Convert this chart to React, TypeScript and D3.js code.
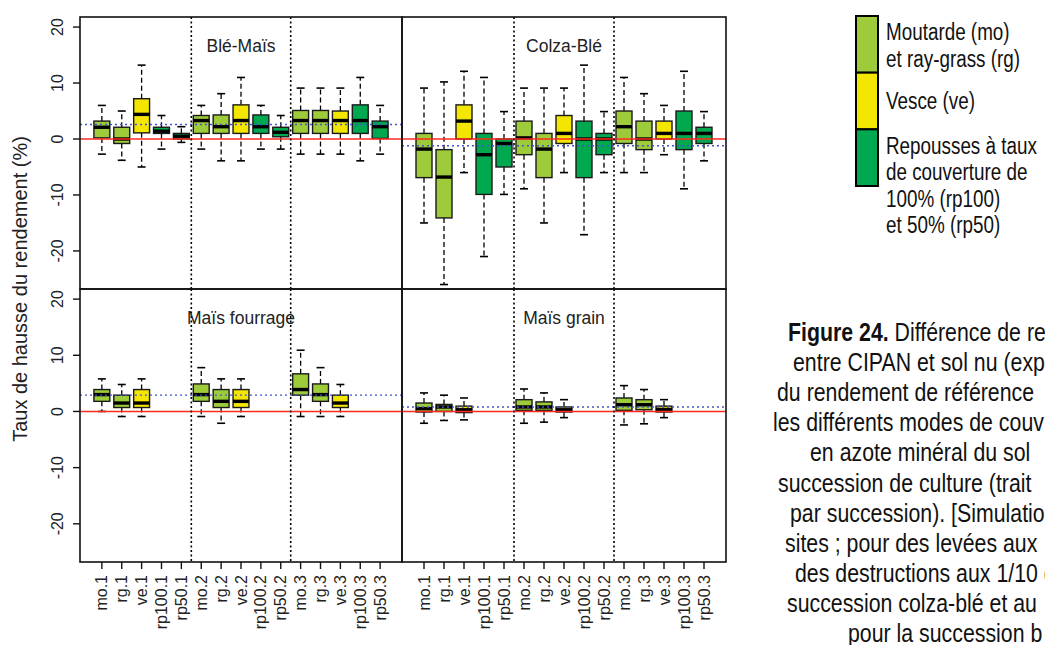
import React from "react";
import * as d3 from "d3";

// ---------- data ----------
const categories = [
  "mo.1", "rg.1", "ve.1", "rp100.1", "rp50.1",
  "mo.2", "rg.2", "ve.2", "rp100.2", "rp50.2",
  "mo.3", "rg.3", "ve.3", "rp100.3", "rp50.3",
];

const panelTitles = ["Blé-Maïs", "Colza-Blé", "Maïs fourrage", "Maïs grain"];

// each entry: [lower whisker, Q1, median, Q3, upper whisker] ; null = no box
type Stat = [number, number, number, number, number] | null;

const bleMais: Stat[] = [
  [-2.7, 0.2, 2.1, 3.2, 6.0],
  [-3.8, -0.8, 0.0, 2.1, 5.0],
  [-5.0, 1.1, 4.4, 7.2, 13.2],
  [-1.8, 1.0, 1.4, 2.1, 4.2],
  [-0.6, 0.0, 0.5, 1.0, 2.2],
  [-1.8, 1.0, 3.3, 4.2, 6.0],
  [-3.9, 1.0, 2.2, 4.3, 8.1],
  [-3.9, 1.0, 3.3, 6.1, 11.0],
  [-1.8, 1.0, 2.2, 4.3, 6.0],
  [-1.8, 0.4, 1.2, 2.1, 4.2],
  [-2.7, 1.0, 3.3, 5.1, 9.1],
  [-2.7, 1.0, 3.3, 5.1, 9.1],
  [-2.7, 1.0, 3.3, 5.0, 9.1],
  [-3.9, 1.0, 3.3, 6.1, 11.0],
  [-2.7, 0.1, 2.2, 3.2, 6.0],
];

const colzaBle: Stat[] = [
  [-15.0, -6.9, -1.8, 1.0, 9.1],
  [-26.0, -14.1, -6.8, -1.9, 10.2],
  [-6.0, 0.0, 3.2, 6.1, 12.1],
  [-21.0, -9.9, -2.8, 1.0, 11.0],
  [-9.9, -5.0, -0.8, 0.0, 4.9],
  [-8.9, -2.8, 0.2, 3.2, 9.1],
  [-15.0, -6.9, -1.8, 1.0, 9.1],
  [-6.0, -0.8, 1.0, 4.2, 9.1],
  [-17.1, -6.9, 0.0, 3.2, 13.2],
  [-6.0, -2.8, 0.0, 1.0, 4.9],
  [-6.0, -0.8, 2.2, 5.0, 11.0],
  [-6.0, -1.9, 0.0, 3.2, 8.1],
  [-2.8, 0.0, 1.0, 3.2, 6.0],
  [-8.9, -1.9, 1.0, 5.0, 12.1],
  [-3.9, -0.8, 1.0, 2.1, 4.9],
];

const maisFourrage: Stat[] = [
  [0.0, 1.8, 3.0, 3.9, 5.8],
  [-0.9, 0.7, 1.5, 2.9, 4.8],
  [-0.9, 0.7, 1.5, 3.9, 5.8],
  null,
  null,
  [-0.9, 1.8, 3.0, 4.9, 7.8],
  [-2.1, 0.7, 1.8, 3.9, 5.8],
  [-0.9, 0.7, 1.8, 3.9, 5.8],
  null,
  null,
  [-0.9, 2.9, 3.9, 6.7, 10.9],
  [-0.9, 1.8, 3.0, 4.9, 7.8],
  [-0.9, 0.7, 1.5, 2.9, 4.8],
  null,
  null,
];

const maisGrain: Stat[] = [
  [-2.1, -0.1, 0.5, 1.5, 3.3],
  [-1.6, 0.0, 0.8, 1.25, 2.9],
  [-1.5, -0.2, 0.3, 0.95, 2.4],
  null,
  null,
  [-2.1, 0.2, 0.8, 2.1, 4.0],
  [-1.9, 0.2, 0.8, 1.7, 3.3],
  [-1.1, -0.1, 0.3, 0.8, 2.1],
  null,
  null,
  [-2.4, 0.2, 1.2, 2.4, 4.6],
  [-2.2, 0.3, 1.2, 2.1, 3.9],
  [-1.1, -0.1, 0.35, 0.95, 2.1],
  null,
  null,
];

const panelMeans = [2.6, -1.2, 2.9, 0.8];
const yTicks = [-20, -10, 0, 10, 20];
const groupBreaks = [5.5, 10.5];

const legendColors = ["#9dcb3a", "#f3e600", "#00a94f"];
const legendLines = [
  "Moutarde (mo)",
  "et ray-grass (rg)",
  "Vesce (ve)",
  "Repousses à taux",
  "de couverture de",
  "100% (rp100)",
  "et 50% (rp50)",
];

const captionBold = "Figure 24.";
const captionLines = [
  " Différence de re",
  "entre CIPAN et sol nu (expr",
  "du rendement de référence",
  "les différents modes de couv",
  "en azote minéral du sol",
  "succession de culture (trait",
  "par succession). [Simulatio",
  "sites ; pour des levées aux",
  "des destructions aux 1/10 e",
  "succession colza-blé et au",
  "pour la succession b",
];

// ---------- layout ----------
const W = 1045;
const H = 645;
const colX = [80, 402, 726];
const rowY = [17, 289, 562];
const captionX = [788, 793, 777, 773, 810, 778, 790, 785, 795, 787, 848];
const legendLineY = [32, 59, 101, 146, 172, 199, 225];

const plotFont = "'Liberation Sans', Arial, Helvetica, sans-serif";
const narrowScale = 0.82;

function fillFor(cat: string) {
  if (cat.startsWith("ve")) return legendColors[1];
  if (cat.startsWith("rp")) return legendColors[2];
  return legendColors[0];
}

const panelsData = [bleMais, colzaBle, maisFourrage, maisGrain];

function Panel({ idx }: { idx: number }) {
  const col = idx % 2;
  const row = Math.floor(idx / 2);
  const x0 = colX[col], x1 = colX[col + 1];
  const y0 = rowY[row], y1 = rowY[row + 1];
  const x = d3.scaleLinear().domain([-0.1, 16.1]).range([x0, x1]);
  const y = d3.scaleLinear().domain([-26.8, 21.8]).range([y1, y0]);
  const bw = (x(1) - x(0)) * 0.8;
  const stw = bw * 0.5;
  const stats = panelsData[idx];
  return (
    <g>
      {stats.map((s, i) => {
        if (!s) return null;
        const cx = x(i + 1);
        const [lo, q1, med, q3, hi] = s;
        const cat = categories[i];
        return (
          <g key={i}>
            <line x1={cx} x2={cx} y1={y(q3)} y2={y(hi)} stroke="#000" strokeWidth={1.3} strokeDasharray="5,3" />
            <line x1={cx} x2={cx} y1={y(q1)} y2={y(lo)} stroke="#000" strokeWidth={1.3} strokeDasharray="5,3" />
            <line x1={cx - stw / 2} x2={cx + stw / 2} y1={y(hi)} y2={y(hi)} stroke="#000" strokeWidth={1.6} />
            <line x1={cx - stw / 2} x2={cx + stw / 2} y1={y(lo)} y2={y(lo)} stroke="#000" strokeWidth={1.6} />
            <rect x={cx - bw / 2} y={y(q3)} width={bw} height={Math.max(0.5, y(q1) - y(q3))}
              fill={fillFor(cat)} stroke="#1a1a1a" strokeWidth={1.4} />
            <line x1={cx - bw / 2} x2={cx + bw / 2} y1={y(med)} y2={y(med)} stroke="#000" strokeWidth={3.4} />
          </g>
        );
      })}
      <line x1={x0} x2={x1} y1={y(0)} y2={y(0)} stroke="#ff2a1f" strokeWidth={1.5} />
      <line x1={x0} x2={x1} y1={y(panelMeans[idx])} y2={y(panelMeans[idx])}
        stroke="#4455cc" strokeWidth={1.4} strokeDasharray="2,3" />
      {groupBreaks.map((b) => (
        <line key={b} x1={x(b)} x2={x(b)} y1={y0} y2={y1} stroke="#000" strokeWidth={1.6} strokeDasharray="2,2.5" />
      ))}
      <text x={(x0 + x1) / 2} y={y(16.7)} textAnchor="middle" dominantBaseline="central"
        fontFamily={plotFont} fontSize={17.5} fill="#222">{panelTitles[idx]}</text>
      <rect x={x0} y={y0} width={x1 - x0} height={y1 - y0} fill="none" stroke="#111" strokeWidth={1.6} />
      {col === 0 && (
        <g>
          {yTicks.map((t) => (
            <g key={t}>
              <line x1={x0 - 7} x2={x0} y1={y(t)} y2={y(t)} stroke="#111" strokeWidth={1.4} />
              <text transform={`translate(${x0 - 17},${y(t)}) rotate(-90)`} textAnchor="middle"
                fontFamily={plotFont} fontSize={16} fill="#222">{t}</text>
            </g>
          ))}
        </g>
      )}
      {row === 1 && (
        <g>
          {categories.map((c, i) => (
            <g key={c}>
              <line x1={x(i + 1)} x2={x(i + 1)} y1={y1} y2={y1 + 7} stroke="#111" strokeWidth={1.4} />
              <text transform={`translate(${x(i + 1)},${y1 + 13}) rotate(-90)`} textAnchor="end" dy="0.35em"
                fontFamily={plotFont} fontSize={16} fill="#222">{c}</text>
            </g>
          ))}
        </g>
      )}
    </g>
  );
}

export default function App() {
  const segH = (186 - 16) / 3;
  return (
    <div style={{ position: "fixed", left: 0, top: 0 }}>
      <svg width={W} height={H} viewBox={`0 0 ${W} ${H}`} style={{ display: "block", background: "#fff" }}>
        <rect x={0} y={0} width={W} height={H} fill="#fff" />
        {[0, 1, 2, 3].map((i) => <Panel key={i} idx={i} />)}
        <text transform={`translate(27,289) rotate(-90)`} textAnchor="middle"
          fontFamily={plotFont} fontSize={20} fill="#222">Taux de hausse du rendement (%)</text>

        {legendColors.map((c, i) => (
          <rect key={c} x={856} y={16 + i * segH} width={22} height={segH} fill={c} stroke="#000" strokeWidth={2} />
        ))}
        {legendLines.map((t, i) => (
          <text key={t} transform={`translate(886,${legendLineY[i] + 8}) scale(${narrowScale},1)`}
            fontFamily={plotFont} fontSize={23} fill="#111">{t}</text>
        ))}

        {captionLines.map((t, i) => (
          <text key={i} transform={`translate(${captionX[i]},${332 + i * 30.1 + 9}) scale(${narrowScale},1)`}
            fontFamily={plotFont} fontSize={26} fill="#111">
            {i === 0 && <tspan fontWeight="bold">{captionBold}</tspan>}
            <tspan>{t}</tspan>
          </text>
        ))}
      </svg>
    </div>
  );
}
